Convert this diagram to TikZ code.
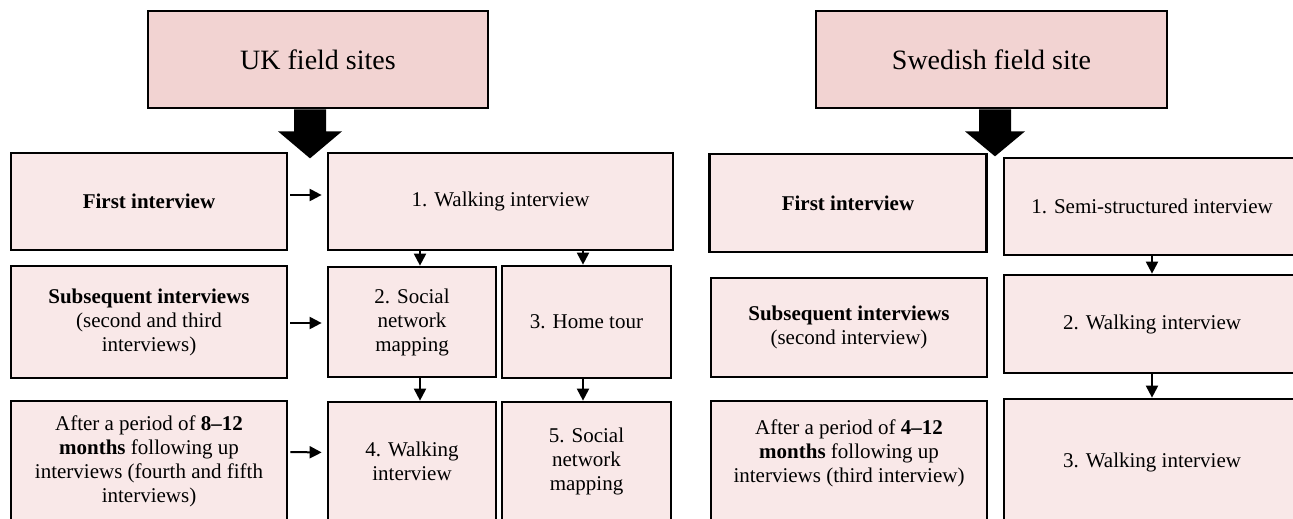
\documentclass[tikz,border=0pt]{standalone}
\usepackage{fontspec}
\setmainfont{Liberation Serif}
\usetikzlibrary{arrows.meta}
\definecolor{headpink}{RGB}{242,211,210}
\definecolor{boxpink}{RGB}{249,232,232}
\begin{document}
\begin{tikzpicture}
  [x=1pt,y=-1pt,
   every node/.style={draw=black, line width=2.7pt, align=center, inner sep=0pt,
                      font=\fontsize{21}{24}\selectfont},
   head/.style={fill=headpink, font=\fontsize{28}{32}\selectfont},
   box/.style={fill=boxpink},
   >={Triangle[width=12pt,length=12pt]}]
  \useasboundingbox (0,0) rectangle (1293,519);
  \clip (0,0) rectangle (1293,519);

  % UK side
  \node[head,minimum width=340pt,minimum height=97pt] (ukhead) at (318,59.5) {UK field sites};
  \node[box,minimum width=276pt,minimum height=97pt] (ukfirst) at (149,201.5) {\textbf{First interview}};
  \node[box,minimum width=276pt,minimum height=112pt] (uksub) at (149,322)
    {\textbf{Subsequent interviews}\\(second and third\\interviews)};
  \node[box,minimum width=276pt,minimum height=120pt] (ukafter) at (149,461)
    {After a period of \textbf{8--12}\\\textbf{months} following up\\interviews (fourth and fifth\\interviews)};
  \node[box,minimum width=345pt,minimum height=97pt] (uk1) at (500.5,201.5) {1. Walking interview};
  \node[box,minimum width=168pt,minimum height=110pt] (uk2) at (412,322) {2. Social\\network\\mapping};
  \node[box,minimum width=169pt,minimum height=112pt] (uk3) at (586.5,322) {3. Home tour};
  \node[box,minimum width=168pt,minimum height=119pt] (uk4) at (412,461.5) {4. Walking\\interview};
  \node[box,minimum width=169pt,minimum height=119pt] (uk5) at (586.5,461.5) {5. Social\\network\\mapping};

  % Swedish side
  \node[head,minimum width=351pt,minimum height=97pt] (swhead) at (991.5,59.5) {Swedish field site};
  \node[box,minimum width=277pt,minimum height=98pt] (swfirst) at (848,203) {\textbf{First interview}};
  \node[box,minimum width=276pt,minimum height=99pt] (swsub) at (849,327.5)
    {\textbf{Subsequent interviews}\\(second interview)};
  \node[box,minimum width=276pt,minimum height=124pt] (swafter) at (849,463)
    {After a period of \textbf{4--12}\\\textbf{months} following up\\interviews (third interview)\\\mbox{}};
  \node[box,minimum width=296pt,minimum height=97pt] (sw1) at (1152,206.5) {1. Semi-structured interview};
  \node[box,minimum width=296pt,minimum height=98pt] (sw2) at (1152,324) {2. Walking interview};
  \node[box,minimum width=296pt,minimum height=126pt] (sw3) at (1152,462) {3. Walking interview};

  % big arrows below the headers
  \coordinate (ukdrop) at (ukhead.south -| 310,0);
  \coordinate (swdrop) at (swhead.south -| 995,0);
  \fill (ukdrop) ++(-16,0) -- ++(0,22) -- ++(-16,0) -- ++(32,27) -- ++(32,-27)
    -- ++(-16,0) -- ++(0,-22) -- cycle;
  \fill (swdrop) ++(-16,0) -- ++(0,22) -- ++(-14,0) -- ++(30,25) -- ++(30,-25)
    -- ++(-14,0) -- ++(0,-22) -- cycle;

  % small arrows
  \path[line width=2pt,shorten <=2pt,shorten >=5pt]
    ([yshift=6.5pt]ukfirst.east) edge[->] ([yshift=6.5pt]uk1.west)
    ([yshift=-1pt]uksub.east) edge[->] ([yshift=-1pt]uk2.west)
    ([yshift=9pt]ukafter.east) edge[->] ([yshift=9pt]uk4.west)
  ;
  \path[line width=2pt]
    ([xshift=8pt]uk2.north |- uk1.south) edge[->] ([xshift=8pt]uk2.north)
    ([xshift=-3.5pt]uk3.north |- uk1.south) edge[->] ([xshift=-3.5pt]uk3.north)
    ([xshift=8pt]uk2.south) edge[->] ([xshift=8pt]uk4.north)
    ([xshift=-3.5pt]uk3.south) edge[->] ([xshift=-3.5pt]uk5.north)
    (sw1) edge[->] (sw2)
    (sw2) edge[->] (sw3)
  ;
\end{tikzpicture}
\end{document}
